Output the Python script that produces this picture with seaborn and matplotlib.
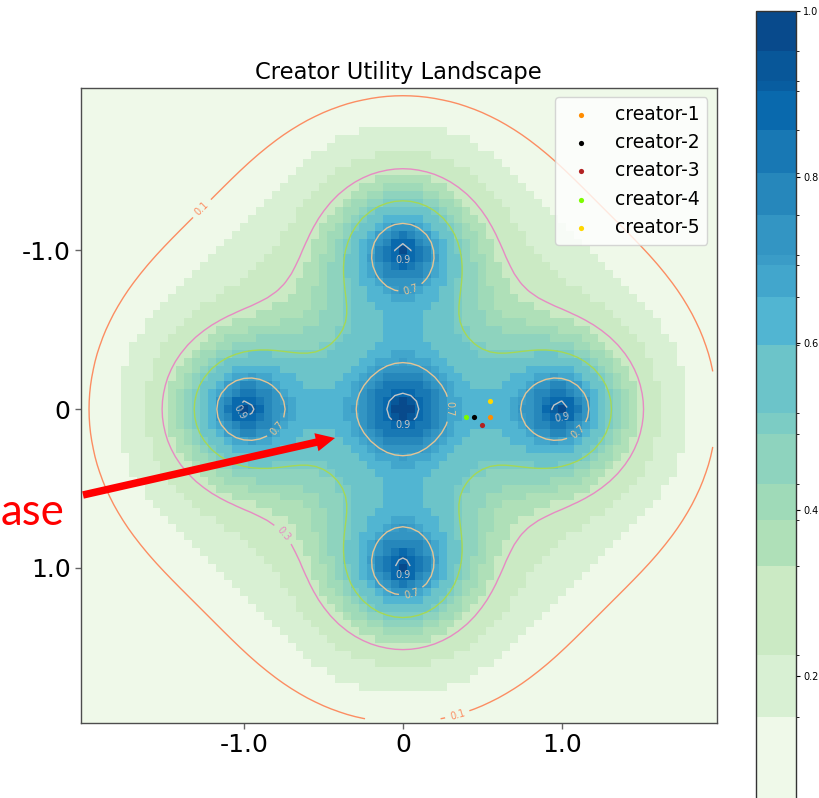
import numpy as np
import pandas as pd
import matplotlib
matplotlib.use("Agg")
import matplotlib.pyplot as plt
from matplotlib.colors import ListedColormap, BoundaryNorm
import seaborn as sns

# ---------------- data ----------------
grid_step = 0.05
grid_x = np.round(np.linspace(-2.0, 1.95, 80), 2)
grid_y = np.round(np.linspace(-2.0, 1.95, 80), 2)

# landscape: five peaks (center + four satellites) on a broad base
peak_x = [0.0, -1.0, 1.0, 0.0, 0.0]
peak_y = [0.0, 0.0, 0.0, -1.0, 1.0]
peak_height = [0.674, 0.76, 0.76, 0.76, 0.76]
peak_length = 0.395
peak_power = 1.27
base_height = 0.214
base_width = 1.293

contour_levels = [0.1, 0.3, 0.5, 0.7, 0.9]
contour_colors = ["#fc8d62", "#e78ac3", "#a6d854", "#e5c494", "#c4c4c4"]
# approximate spots (x, y) where the contour labels sit, and their level
label_spot_level = [0.1, 0.1, 0.3, 0.7, 0.7, 0.7, 0.7, 0.7, 0.9, 0.9, 0.9, 0.9, 0.9]
label_spot_x = [-1.25, 0.35, -0.72, -0.78, 0.05, 0.05, 1.12, 0.30, 0.0, 1.0, 0.0, -1.0, 0.0]
label_spot_y = [-1.25, 1.95, 0.76, 0.13, -0.75, 1.15, 0.16, 0.0, 0.12, 0.05, -0.92, 0.0, 1.07]

creators = ["creator-1", "creator-2", "creator-3", "creator-4", "creator-5"]
creator_x = [0.55, 0.45, 0.50, 0.40, 0.55]
creator_y = [0.05, 0.05, 0.10, 0.05, -0.05]
creator_colors = ["darkorange", "black", "firebrick", "lawngreen", "gold"]

tick_values = [-1.0, 0.0, 1.0]
tick_labels = ["-1.0", "0", "1.0"]
cbar_ticks = [0.2, 0.4, 0.6, 0.8, 1.0]
band_edges = [0.0, 0.151, 0.225, 0.332, 0.387, 0.431, 0.491, 0.516, 0.598,
              0.656, 0.694, 0.706, 0.754, 0.805, 0.856, 0.904, 0.915, 0.952, 1.0]

# ---------------- landscape grid ----------------
X, Y = np.meshgrid(grid_x, grid_y)
Z = base_height * np.exp(-(X**2 + Y**2) / (2 * base_width**2))
for px, py, h in zip(peak_x, peak_y, peak_height):
    d = np.sqrt((X - px) ** 2 + (Y - py) ** 2)
    Z = Z + h * np.exp(-(d / peak_length) ** peak_power)
Z = np.clip(Z, 0, 1.0)
df = pd.DataFrame(Z, index=grid_y, columns=grid_x)

base_cmap = sns.color_palette("GnBu", as_cmap=True)
band_pos = [a + 0.3 * (b - a) for a, b in zip(band_edges[:-1], band_edges[1:])]
cmap = ListedColormap([base_cmap(m) for m in band_pos])
norm = BoundaryNorm(band_edges, cmap.N)

def to_cell(v, origin):
    return (np.asarray(v, dtype=float) - origin) / grid_step + 0.5

# ---------------- figure ----------------
W, H = 820, 798
fig = plt.figure(figsize=(W / 100, H / 100), dpi=100)
ax = fig.add_axes([81 / W, (H - 722.7) / H, 635.7 / W, 635 / H])
cax = fig.add_axes([756 / W, (H - 842.3) / H, 40 / W, (842.3 - 10.7) / H])

sns.heatmap(df, cmap=cmap, norm=norm, ax=ax, cbar=False,
            xticklabels=False, yticklabels=False)
mesh = ax.collections[0]

cx = np.arange(len(grid_x)) + 0.5
cy = np.arange(len(grid_y)) + 0.5
for lev, col in zip(contour_levels, contour_colors):
    cs = ax.contour(cx, cy, Z, levels=[lev], colors=[col], linewidths=1.0)
    spots = [(to_cell(x, grid_x[0]), to_cell(y, grid_y[0]))
             for l, x, y in zip(label_spot_level, label_spot_x, label_spot_y)
             if abs(l - lev) < 1e-9]
    if spots:
        ax.clabel(cs, fontsize=7, inline=True, fmt="%.1f", manual=spots)

for name, x, y, c in zip(creators, creator_x, creator_y, creator_colors):
    ax.scatter(to_cell(x, grid_x[0]), to_cell(y, grid_y[0]), s=14, color=c,
               label=name, zorder=5, linewidths=0)

ax.set_xticks(to_cell(tick_values, grid_x[0]))
ax.set_xticklabels(tick_labels)
ax.set_yticks(to_cell(tick_values, grid_y[0]))
ax.set_yticklabels(tick_labels, rotation=0)
ax.tick_params(axis="both", labelsize=18, length=4, color="0.4", width=1)
for sp in ax.spines.values():
    sp.set_visible(True)
    sp.set_color("0.3")
    sp.set_linewidth(1.0)
ax.set_xlabel("")
ax.set_ylabel("")
ax.set_title("Creator Utility Landscape", fontsize=16.3)
ax.legend(loc="upper right", fontsize=13.5)

cb = fig.colorbar(mesh, cax=cax, spacing="proportional", ticks=cbar_ticks)
cb.ax.tick_params(labelsize=7, length=3, pad=2)
cb.ax.set_yticklabels([f"{t:.1f}" for t in cbar_ticks])
cb.outline.set_linewidth(1.0)
cb.outline.set_edgecolor("0.2")

# red arrow and partially visible label
ax.annotate("", xy=(335, H - 438), xytext=(83, H - 495),
            xycoords="figure pixels", textcoords="figure pixels",
            annotation_clip=False,
            arrowprops=dict(arrowstyle="simple,head_length=1.37,head_width=1.33,tail_width=0.54",
                            mutation_scale=10, fc="red", ec="red", lw=0,
                            shrinkA=0, shrinkB=0))
fig.text(1 / W, (H - 525) / H, "ase", color="red", fontsize=31.5,
         family=["Lato", "DejaVu Sans"], ha="left", va="baseline")

fig.savefig("out.png", dpi=100)
